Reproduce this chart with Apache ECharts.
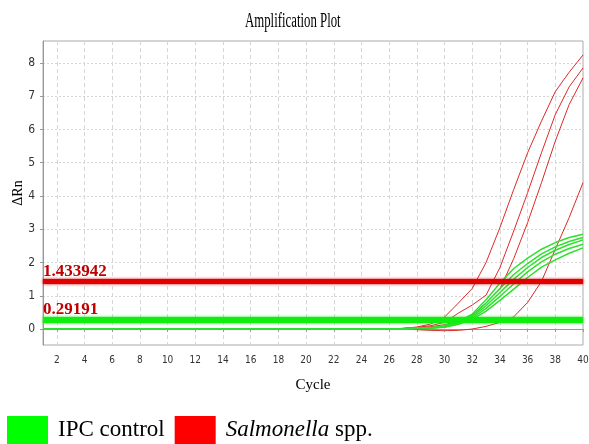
<!DOCTYPE html>
<html>
<head>
<meta charset="utf-8">
<script src="https://cdn.jsdelivr.net/npm/echarts@6/dist/echarts.min.js"></script>
<style>
  html, body { margin: 0; padding: 0; background: #fff; }
  #main { width: 589px; height: 444px; }
</style>
</head>
<body>
<div id="main"></div>
<script>
// cycle numbers (x)
var cycles = [1, 2, 3, 4, 5, 6, 7, 8, 9, 10, 11, 12, 13, 14, 15, 16, 17, 18, 19, 20,
              21, 22, 23, 24, 25, 26, 27, 28, 29, 30, 31, 32, 33, 34, 35, 36, 37, 38, 39, 40];
var xTicks = [2, 4, 6, 8, 10, 12, 14, 16, 18, 20, 22, 24, 26, 28, 30, 32, 34, 36, 38, 40];
var yTicks = [0, 1, 2, 3, 4, 5, 6, 7, 8];

// Salmonella spp. curves (delta Rn)
var salm1 = [0, 0, 0, 0, 0, 0, 0, 0, 0, 0, 0, 0, 0, 0, 0, 0, 0, 0, 0, 0,
             0, 0, 0, 0, 0, 0, 0.02, 0.06, 0.15, 0.36, 0.78, 1.22, 2.0, 3.05, 4.2, 5.3, 6.25, 7.14, 7.72, 8.24];
var salm2 = [0, 0, 0, 0, 0, 0, 0, 0, 0, 0, 0, 0, 0, 0, 0, 0, 0, 0, 0, 0,
             0, 0, 0, 0, 0, 0, 0.02, 0.05, 0.1, 0.2, 0.48, 0.72, 1.02, 1.85, 2.95, 4.1, 5.3, 6.45, 7.28, 7.85];
var salm3 = [0, 0, 0, 0, 0, 0, 0, 0, 0, 0, 0, 0, 0, 0, 0, 0, 0, 0, 0, 0,
             0, 0, 0, 0, 0, 0, 0, 0.03, 0.07, 0.13, 0.24, 0.42, 0.78, 1.2, 2.12, 3.2, 4.4, 5.65, 6.75, 7.55];
var salm4 = [0, 0, 0, 0, 0, 0, 0, 0, 0, 0, 0, 0, 0, 0, 0, 0, 0, 0, 0, 0,
             0, 0, 0, 0, 0, 0, 0, -0.02, -0.04, -0.05, -0.04, 0.0, 0.08, 0.2, 0.37, 0.8, 1.43, 2.4, 3.35, 4.4];

// IPC control curves
var ipc1 = [0, 0, 0, 0, 0, 0, 0, 0, 0, 0, 0, 0, 0, 0, 0, 0, 0, 0, 0, 0,
            0, 0, 0, 0, 0, 0, 0.01, 0.02, 0.04, 0.1, 0.22, 0.45, 0.88, 1.38, 1.82, 2.13, 2.4, 2.6, 2.75, 2.85];
var ipc2 = [0, 0, 0, 0, 0, 0, 0, 0, 0, 0, 0, 0, 0, 0, 0, 0, 0, 0, 0, 0,
            0, 0, 0, 0, 0, 0, 0.01, 0.02, 0.04, 0.08, 0.2, 0.4, 0.78, 1.22, 1.64, 1.97, 2.26, 2.47, 2.63, 2.75];
var ipc3 = [0, 0, 0, 0, 0, 0, 0, 0, 0, 0, 0, 0, 0, 0, 0, 0, 0, 0, 0, 0,
            0, 0, 0, 0, 0, 0, 0.01, 0.02, 0.03, 0.07, 0.18, 0.37, 0.7, 1.1, 1.5, 1.85, 2.15, 2.37, 2.54, 2.68];
var ipc4 = [0, 0, 0, 0, 0, 0, 0, 0, 0, 0, 0, 0, 0, 0, 0, 0, 0, 0, 0, 0,
            0, 0, 0, 0, 0, 0, 0.01, 0.02, 0.03, 0.06, 0.16, 0.33, 0.62, 0.98, 1.36, 1.72, 2.02, 2.25, 2.42, 2.55];
var ipc5 = [0, 0, 0, 0, 0, 0, 0, 0, 0, 0, 0, 0, 0, 0, 0, 0, 0, 0, 0, 0,
            0, 0, 0, 0, 0, 0, 0.01, 0.01, 0.03, 0.05, 0.14, 0.29, 0.54, 0.86, 1.2, 1.55, 1.86, 2.08, 2.28, 2.44];

// thresholds
var salmThreshold = 1.433942;
var ipcThreshold = 0.29191;

var chart = echarts.init(document.getElementById('main'));

function pairs(vals) {
    var out = [];
    for (var i = 0; i < cycles.length; i++) {
        out.push([cycles[i], vals[i]]);
    }
    return out;
}

function curve(name, vals, color, width) {
    return {
        name: name,
        type: 'line',
        data: pairs(vals),
        showSymbol: false,
        silent: true,
        lineStyle: { color: color, width: width },
        itemStyle: { color: color }
    };
}

function thresholdLine(value, color, width) {
    return {
        name: 'threshold',
        type: 'line',
        data: [],
        silent: true,
        markLine: {
            silent: true,
            symbol: ['none', 'none'],
            lineStyle: {
                color: color,
                width: width,
                type: 'solid',
                shadowColor: color,
                shadowBlur: 3
            },
            label: {
                show: true,
                position: 'insideStartTop',
                distance: [0, 1],
                formatter: String(value),
                color: '#c00000',
                fontFamily: 'Liberation Serif',
                fontWeight: 'bold',
                fontSize: 17
            },
            data: [{ yAxis: value }]
        }
    };
}

var salmColor = '#dd2a2a';
var ipcColor = '#2ee02e';
var tickFont = '"Liberation Sans Narrow", "DejaVu Sans Condensed", "Liberation Sans", sans-serif';

var series = [];
series.push(curve('Salmonella spp.', salm1, salmColor, 1));
series.push(curve('Salmonella spp.', salm2, salmColor, 1));
series.push(curve('Salmonella spp.', salm3, salmColor, 1));
series.push(curve('Salmonella spp.', salm4, salmColor, 1));
series.push(curve('IPC control', ipc1, ipcColor, 1.5));
series.push(curve('IPC control', ipc2, ipcColor, 1.5));
series.push(curve('IPC control', ipc3, ipcColor, 1.5));
series.push(curve('IPC control', ipc4, ipcColor, 1.5));
series.push(curve('IPC control', ipc5, ipcColor, 1.5));
series.push(thresholdLine(salmThreshold, '#e00000', 5));
series.push(thresholdLine(ipcThreshold, '#10ee10', 6));

var option = {
    animation: false,
    backgroundColor: '#fff',
    graphic: [{
        type: 'text',
        left: 245,
        top: 12,
        scaleX: 0.64,
        style: {
            text: 'Amplification Plot',
            font: '20px "Liberation Serif"',
            fill: '#000'
        }
    }],
    legend: {
        left: 7,
        top: 416,
        padding: 0,
        itemWidth: 41,
        itemHeight: 28,
        itemGap: 10,
        icon: 'rect',
        selectedMode: false,
        textStyle: {
            fontFamily: 'Liberation Serif',
            fontSize: 23,
            color: '#000',
            padding: [0, 0, 0, 5],
            rich: {
                i: { fontFamily: 'Liberation Serif', fontSize: 23, fontStyle: 'italic', color: '#000' }
            }
        },
        formatter: function(name) {
            if (name == 'Salmonella spp.') {
                return '{i|Salmonella} spp.';
            }
            return name;
        },
        data: [
            { name: 'IPC control', itemStyle: { color: '#00ff00', borderWidth: 0 } },
            { name: 'Salmonella spp.', itemStyle: { color: '#ff0000', borderWidth: 0 } }
        ]
    },
    grid: {
        left: 43,
        right: 6,
        top: 41,
        bottom: 99,
        outerBoundsMode: 'none',
        show: true,
        borderColor: '#aaa',
        borderWidth: 1,
        backgroundColor: '#fff'
    },
    xAxis: {
        type: 'value',
        min: 1,
        max: 40,
        name: 'Cycle',
        nameLocation: 'middle',
        nameGap: 33,
        nameMoveOverlap: false,
        nameTextStyle: { fontFamily: 'Liberation Serif', fontSize: 15, color: '#000' },
        axisLine: { show: true, lineStyle: { color: '#999' } },
        axisTick: { show: true, length: 3, customValues: xTicks, lineStyle: { color: '#999' } },
        axisLabel: {
            customValues: xTicks,
            margin: 10,
            fontFamily: tickFont,
            fontSize: 10,
            color: '#333'
        },
        splitLine: { show: true, lineStyle: { color: '#d6d6d6', type: [4, 3] } }
    },
    yAxis: {
        type: 'value',
        min: -0.48,
        max: 8.66,
        name: '\u0394Rn',
        nameLocation: 'middle',
        nameGap: 18,
        nameMoveOverlap: false,
        nameTextStyle: { fontFamily: 'Liberation Serif', fontSize: 14, color: '#000' },
        axisLine: { show: true, lineStyle: { color: '#999' } },
        axisTick: { show: true, length: 3, customValues: yTicks, lineStyle: { color: '#999' } },
        axisLabel: {
            customValues: yTicks,
            margin: 8,
            fontFamily: tickFont,
            fontSize: 12,
            color: '#333'
        },
        splitLine: { show: true, lineStyle: { color: '#d6d6d6', type: [2, 2] } }
    },
    series: series
};

chart.setOption(option);
</script>
</body>
</html>
